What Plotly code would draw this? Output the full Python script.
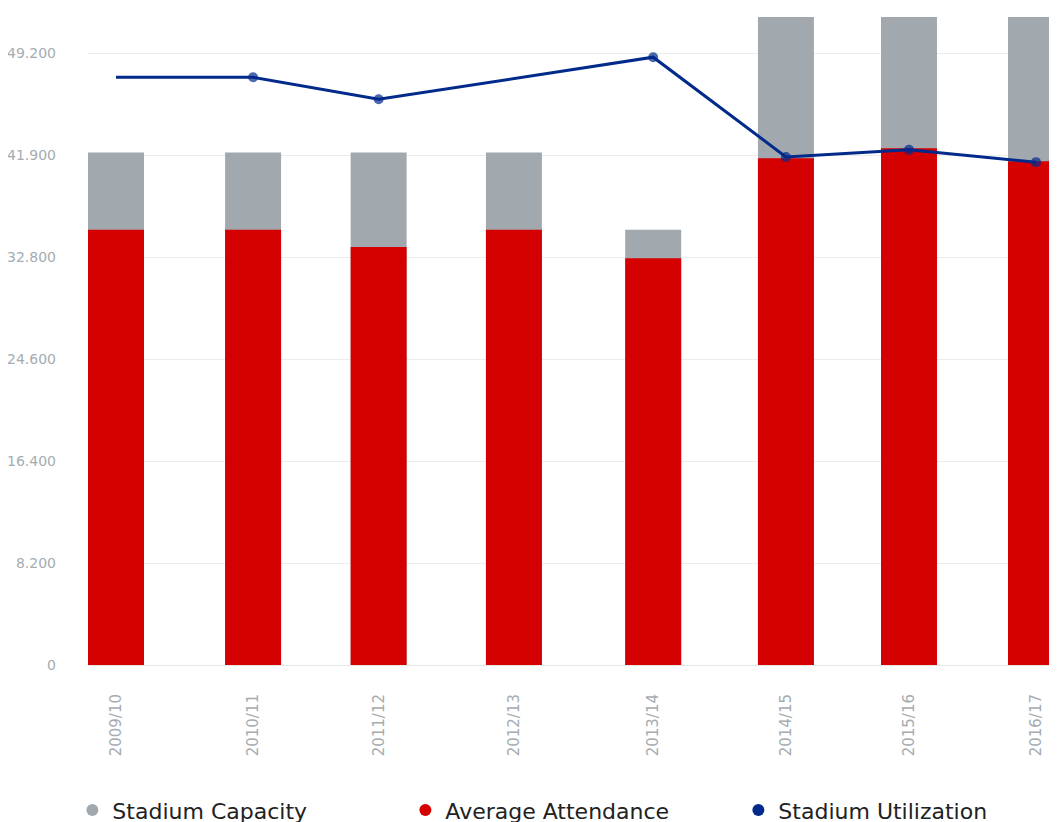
import plotly.graph_objects as go
from datetime import datetime, timedelta

seasons = ["2009/10", "2010/11", "2011/12", "2012/13", "2013/14", "2014/15", "2015/16", "2016/17"]
season_dates = ["2009-08-15", "2010-08-31", "2011-08-15", "2012-08-25",
                "2013-09-16", "2014-09-20", "2015-08-28", "2016-08-15"]
stadium_capacity = [41200, 41200, 41200, 41200, 35000, 55000, 55000, 55000]
average_attendance = [35000, 35000, 33600, 35000, 32700, 40750, 41550, 40500]
stadium_utilization = [90.7, 90.7, 87.3, None, 93.8, 78.4, 79.5, 77.6]

y_tickvals = [0, 8200, 16400, 24600, 32800, 41000, 49200]
y_ticktext = ["0", "8.200", "16.400", "24.600", "32.800", "41.900", "49.200"]

GREY = "#a2a9ae"
RED = "#d50000"
BLUE = "#012a8b"
FONT = "DejaVu Sans"

DAY_MS = 86400000
bar_width_ms = 155.6 * DAY_MS

fig = go.Figure()
fig.add_trace(go.Bar(x=season_dates, y=stadium_capacity, name="Stadium Capacity",
                     marker=dict(color=GREY, line=dict(width=0)), width=bar_width_ms,
                     showlegend=False))
fig.add_trace(go.Bar(x=season_dates, y=average_attendance, name="Average Attendance",
                     marker=dict(color=RED, line=dict(width=0)), width=bar_width_ms,
                     showlegend=False))
fig.add_trace(go.Scatter(x=season_dates, y=stadium_utilization, name="Stadium Utilization",
                         mode="lines+markers", connectgaps=True, yaxis="y2",
                         line=dict(color=BLUE, width=3),
                         marker=dict(color=BLUE, size=[0, 10, 10, 10, 10, 10, 10, 10],
                                     line=dict(width=0)),
                         showlegend=False))
# legend entries with round symbols
for nm, col in [("Stadium Capacity", GREY), ("Average Attendance", RED), ("Stadium Utilization", BLUE)]:
    fig.add_trace(go.Scatter(x=[None], y=[None], mode="markers", name=nm,
                             marker=dict(color=col, size=11, symbol="circle", line=dict(width=0))))

d0 = datetime.strptime(season_dates[0], "%Y-%m-%d")
d1 = datetime.strptime(season_dates[-1], "%Y-%m-%d")
x_range = [(d0 - timedelta(days=77.8)).strftime("%Y-%m-%d %H:%M"),
           (d1 + timedelta(days=80.6)).strftime("%Y-%m-%d %H:%M")]

fig.update_layout(
    width=1057, height=822,
    margin=dict(l=80, r=0, t=9, b=165, autoexpand=False),
    paper_bgcolor="white", plot_bgcolor="white",
    barmode="overlay",
    font=dict(family=FONT, color="#a4acb2"),
    xaxis=dict(type="date", range=x_range, tickvals=season_dates, ticktext=seasons,
               tickangle=-90, tickfont=dict(size=15, color="#a4acb2"),
               showgrid=False, zeroline=False, showline=True, linecolor="#e6e6e6",
               linewidth=1, ticks="", ticklabelstandoff=22, automargin=False),
    yaxis=dict(range=[0, 52100], tickvals=y_tickvals, ticktext=y_ticktext,
               tickfont=dict(size=14, color="#a4acb2"), showgrid=True,
               gridcolor="#ececec", zeroline=False, showline=False, ticks="",
               ticklabelstandoff=31, automargin=False),
    yaxis2=dict(range=[0, 100], overlaying="y", visible=False),
    legend=dict(orientation="h", x=-0.016, xanchor="left", y=-0.224, yanchor="middle",
                font=dict(size=22, color="#222222", family=FONT),
                entrywidth=288, itemsizing="constant", bgcolor="rgba(0,0,0,0)"),
)

fig.write_html("out.html",
               post_script="document.documentElement.style.overflow='hidden';"
                           "document.body.style.overflow='hidden';")
